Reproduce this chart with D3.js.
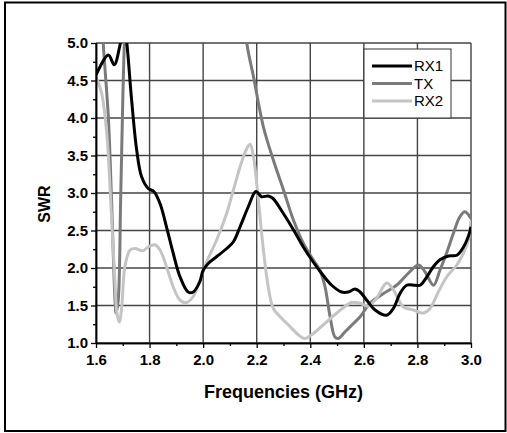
<!DOCTYPE html>
<html><head><meta charset="utf-8">
<script src="https://cdn.jsdelivr.net/npm/d3@7"></script>
<style>body{margin:0;background:#fff}svg{display:block}</style>
</head><body>
<svg id="c" width="507" height="433"></svg>
<script>
const seriesNames = ["RX1", "TX", "RX2"];
const seriesColors = ["#000000", "#7a7a7a", "#c4c4c4"];
const xTicks = [1.6, 1.8, 2.0, 2.2, 2.4, 2.6, 2.8, 3.0];
const yTicks = [1.0, 1.5, 2.0, 2.5, 3.0, 3.5, 4.0, 4.5, 5.0];

const rx1Freq = [1.6,1.646,1.668,1.69,1.705,1.715,1.733,1.752,1.77,1.795,1.816,1.839,1.863,1.888,1.914,1.944,1.963,1.988,2.0,2.019,2.05,2.088,2.113,2.138,2.169,2.197,2.218,2.243,2.26,2.299,2.337,2.374,2.405,2.442,2.48,2.517,2.542,2.567,2.586,2.611,2.642,2.685,2.71,2.735,2.76,2.791,2.81,2.835,2.86,2.884,2.916,2.947,2.972,2.99,3.0];
const rx1SWR = [4.57,4.84,4.71,4.98,5.25,5.0,4.24,3.57,3.22,3.06,3.02,2.86,2.55,2.2,1.88,1.68,1.68,1.82,1.97,2.06,2.15,2.26,2.35,2.55,2.82,3.02,2.95,2.96,2.93,2.73,2.51,2.28,2.11,1.93,1.77,1.68,1.68,1.72,1.68,1.57,1.44,1.37,1.46,1.66,1.77,1.77,1.77,1.88,2.02,2.11,2.16,2.17,2.28,2.42,2.55];

const txFreq = [1.6,1.615,1.627,1.646,1.658,1.671,1.675,1.683,1.692,1.7,1.706,1.72,2.15,2.163,2.188,2.225,2.262,2.3,2.337,2.374,2.411,2.436,2.455,2.474,2.492,2.505,2.53,2.561,2.586,2.623,2.673,2.722,2.766,2.804,2.828,2.86,2.884,2.909,2.934,2.958,2.977,3.0];
const txSWR = [6.5,6.0,5.0,4.02,2.91,1.57,1.40,1.57,2.91,4.24,5.0,6.0,5.6,5.0,4.55,3.88,3.44,3.04,2.64,2.33,2.11,1.97,1.75,1.35,1.08,1.06,1.15,1.26,1.35,1.53,1.66,1.77,1.93,2.04,1.95,1.77,1.97,2.2,2.46,2.68,2.75,2.66];

const rx2Freq = [1.6,1.621,1.64,1.658,1.671,1.678,1.687,1.696,1.708,1.727,1.746,1.774,1.795,1.82,1.839,1.863,1.888,1.914,1.938,1.963,1.988,2.019,2.05,2.088,2.113,2.138,2.16,2.175,2.188,2.206,2.225,2.243,2.262,2.293,2.324,2.355,2.38,2.405,2.448,2.499,2.555,2.586,2.617,2.648,2.685,2.71,2.748,2.785,2.822,2.847,2.878,2.909,2.947,2.972,2.99,3.0];
const rx2SWR = [4.55,4.33,3.8,2.68,1.8,1.4,1.28,1.48,2.02,2.24,2.26,2.23,2.28,2.31,2.24,2.02,1.75,1.57,1.54,1.62,1.84,2.13,2.37,2.73,3.04,3.35,3.57,3.65,3.48,2.91,2.24,1.75,1.46,1.33,1.22,1.11,1.06,1.11,1.24,1.40,1.54,1.53,1.49,1.6,1.8,1.71,1.48,1.44,1.4,1.46,1.68,1.88,2.04,2.2,2.37,2.64];

const series = [
  {name: seriesNames[0], color: seriesColors[0], f: rx1Freq, v: rx1SWR},
  {name: seriesNames[1], color: seriesColors[1], f: txFreq, v: txSWR},
  {name: seriesNames[2], color: seriesColors[2], f: rx2Freq, v: rx2SWR}
];

const svg = d3.select("#c");
const W = 507, H = 433;
const m = {l: 96, r: 36, t: 43, b: 90};
const x = d3.scaleLinear().domain([1.6, 3.0]).range([m.l, W - m.r]);
const y = d3.scaleLinear().domain([1.0, 5.0]).range([H - m.b, m.t]);
const font = "'Liberation Sans', Arial, sans-serif";

// outer frame
svg.append("rect").attr("x", 5).attr("y", 2.5).attr("width", 500.5).attr("height", 428.5)
  .attr("fill", "none").attr("stroke", "#000").attr("stroke-width", 2);

// grid
const g = svg.append("g");
g.selectAll(".vg").data(xTicks).join("line")
  .attr("x1", d => x(d)).attr("x2", d => x(d)).attr("y1", y(1)).attr("y2", y(5))
  .attr("stroke", "#444").attr("stroke-width", 1.4);
g.selectAll(".hg").data(yTicks).join("line")
  .attr("y1", d => y(d)).attr("y2", d => y(d)).attr("x1", x(1.6)).attr("x2", x(3.0))
  .attr("stroke", "#444").attr("stroke-width", 1.4);

// clip
svg.append("clipPath").attr("id", "clip").append("rect")
  .attr("x", x(1.6)).attr("y", y(5)).attr("width", x(3.0) - x(1.6)).attr("height", y(1) - y(5));

const line = d3.line().x(d => x(d[0])).y(d => y(d[1])).curve(d3.curveCatmullRom.alpha(0.5));
const lg = svg.append("g").attr("clip-path", "url(#clip)");
[1, 2, 0].forEach(i => {
  const s = series[i];
  lg.append("path").datum(s.f.map((f, k) => [f, s.v[k]]))
    .attr("d", line).attr("fill", "none").attr("stroke", s.color)
    .attr("stroke-width", 3).attr("stroke-linejoin", "round");
});

// axes
const xAxis = d3.axisBottom(x).tickValues(xTicks).tickFormat(d3.format(".1f")).tickSize(5).tickSizeOuter(0).tickPadding(6);
const xMinor = d3.axisBottom(x).tickValues(d3.range(1.7, 3.0, 0.2)).tickFormat("").tickSize(3).tickSizeOuter(0);
const yAxis = d3.axisLeft(y).tickValues(yTicks).tickFormat(d3.format(".1f")).tickSize(5).tickSizeOuter(0).tickPadding(3);
const yMinor = d3.axisLeft(y).tickValues(d3.range(1.25, 5.0, 0.5)).tickFormat("").tickSize(3).tickSizeOuter(0);

function styleAxis(sel) {
  sel.selectAll("path").attr("stroke", "#000").attr("stroke-width", 1.5);
  sel.selectAll("line").attr("stroke", "#000").attr("stroke-width", 1.3);
  sel.selectAll("text").attr("font-family", font).attr("font-weight", "bold").attr("font-size", 15).attr("fill", "#000");
}
svg.append("g").attr("transform", `translate(0,${y(1)})`).call(xMinor).call(styleAxis);
svg.append("g").attr("transform", `translate(0,${y(1)})`).call(xAxis).call(styleAxis);
svg.append("g").attr("transform", `translate(${x(1.6)},0)`).call(yMinor).call(styleAxis);
svg.append("g").attr("transform", `translate(${x(1.6)},0)`).call(yAxis).call(styleAxis);

// axis titles
svg.append("text").attr("x", (x(1.6) + x(3.0)) / 2).attr("y", 398).attr("text-anchor", "middle")
  .attr("font-family", font).attr("font-weight", "bold").attr("font-size", 18).text("Frequencies (GHz)");
svg.append("text").attr("transform", `translate(50,${204}) rotate(-90)`).attr("text-anchor", "middle")
  .attr("font-family", font).attr("font-weight", "bold").attr("font-size", 16).text("SWR");

// legend
const leg = svg.append("g");
leg.append("rect").attr("x", 364).attr("y", 49).attr("width", 87).attr("height", 69)
  .attr("fill", "#fff").attr("stroke", "#333").attr("stroke-width", 1);
series.forEach((s, i) => {
  const yy = 66 + i * 17.5;
  leg.append("line").attr("x1", 372).attr("x2", 412).attr("y1", yy).attr("y2", yy)
    .attr("stroke", s.color).attr("stroke-width", 3);
  leg.append("text").attr("x", 414).attr("y", yy + 5).attr("font-family", font)
    .attr("font-size", 15).attr("fill", "#000").text(s.name);
});
</script>
</body></html>
